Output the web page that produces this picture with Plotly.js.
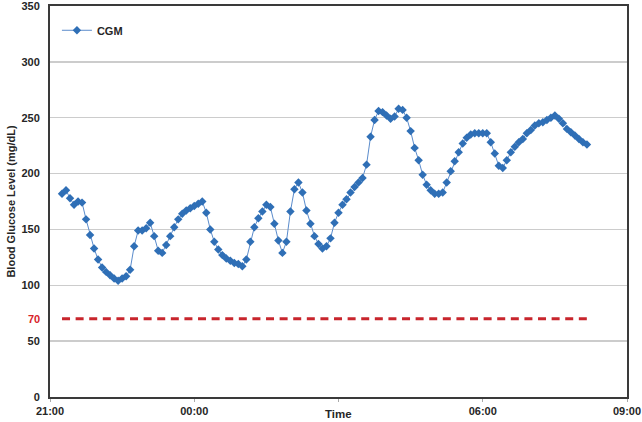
<!DOCTYPE html>
<html>
<head>
<meta charset="utf-8">
<script src="https://cdn.plot.ly/plotly-3.0.1.min.js"></script>
<style>
	html, body { margin: 0; padding: 0; background: #fff; }
	#chart { width: 642px; height: 422px; }
</style>
</head>
<body>
<div id="chart"></div>
<script>
// CGM readings, one every 5 minutes from 21:15
const cgm_start = '2000-01-01 21:15';
const cgm_step_ms = 5 * 60 * 1000;
const cgm_values = [
	182, 185, 178, 172, 175, 174, 159, 145, 133, 123,
	116, 112, 109, 106, 104, 106, 108, 114, 135, 149,
	149, 151, 156, 144, 131, 129, 136, 144, 152, 159,
	164, 167, 169, 171, 173, 175, 165, 150, 139, 132,
	127, 124, 122, 120, 119, 117, 123, 139, 152, 160,
	166, 172, 170, 155, 140, 129, 139, 166, 186, 192,
	183, 167, 155, 144, 137, 133, 135, 142, 156, 165,
	172, 177, 183, 188, 192, 196, 208, 233, 248, 256,
	255, 252, 249, 251, 258, 257, 250, 238, 223, 212,
	199, 190, 185, 182, 182, 183, 192, 202, 211, 219,
	227, 232, 235, 236, 236, 236, 236, 228, 218, 207,
	205, 212, 219, 224, 228, 231, 236, 239, 243, 245,
	246, 248, 250, 252, 249, 245, 240, 237, 234, 231,
	228, 226
];
const hypo_level = 70;

const x_range = ['2000-01-01 21:00', '2000-01-02 09:00'];
const x_tick_vals = ['2000-01-01 21:00', '2000-01-02 00:00', '2000-01-02 03:00', '2000-01-02 06:00', '2000-01-02 09:00'];
const x_tick_text = ['21:00', '00:00', '', '06:00', '09:00'];
const y_tick_vals = [0, 50, 100, 150, 200, 250, 300, 350];

const label_font = { family: 'Liberation Sans, Arial, sans-serif', size: 11, color: '#262626', weight: 'bold' };

const traces = [
	{
		type: 'scatter',
		mode: 'lines+markers',
		name: 'CGM',
		x0: cgm_start,
		dx: cgm_step_ms,
		y: cgm_values,
		line: { color: '#5b8ccc', width: 1 },
		marker: { symbol: 'diamond', size: 6.5, color: '#2f6fb6' }
	},
	{
		type: 'scatter',
		mode: 'lines',
		name: 'hypo',
		showlegend: false,
		x0: cgm_start,
		dx: cgm_step_ms * (cgm_values.length - 1),
		y: [hypo_level, hypo_level],
		line: { color: '#c8252c', width: 3, dash: '8px,5.6px' },
		hoverinfo: 'skip'
	}
];

const layout = {
	width: 642,
	height: 422,
	margin: { l: 50, r: 15, t: 6, b: 25 },
	paper_bgcolor: '#fff',
	plot_bgcolor: '#fff',
	font: label_font,
	showlegend: true,
	legend: {
		x: 0.012, y: 0.975, xanchor: 'left', yanchor: 'top',
		bgcolor: 'rgba(0,0,0,0)',
		font: { family: 'Liberation Sans, Arial, sans-serif', size: 11, color: '#262626', weight: 'bold' },
		itemwidth: 30
	},
	xaxis: {
		type: 'date',
		range: x_range,
		tickmode: 'array',
		tickvals: x_tick_vals,
		ticktext: x_tick_text,
		tickfont: label_font,
		ticks: 'outside',
		ticklen: 3,
		tickcolor: '#aaa',
		showgrid: false,
		zeroline: false,
		showline: true,
		linecolor: '#3a3a3a',
		linewidth: 2,
		mirror: true
	},
	yaxis: {
		range: [0, 350],
		tickmode: 'array',
		tickvals: y_tick_vals,
		tickfont: label_font,
		ticks: '',
		ticklabelstandoff: 6,
		ticklabeloverflow: 'allow',
		showgrid: true,
		gridcolor: '#cccccc',
		gridwidth: 1.5,
		zeroline: false,
		showline: true,
		linecolor: '#3a3a3a',
		linewidth: 2,
		mirror: true,
		title: { text: 'Blood Glucose Level (mg/dL)', font: label_font, standoff: 4 }
	},
	annotations: [
		{
			text: 'Time',
			xref: 'paper', yref: 'paper',
			x: 0.5, y: 0, xanchor: 'center', yanchor: 'middle',
			yshift: -17, showarrow: false,
			font: { family: 'Liberation Sans, Arial, sans-serif', size: 11.5, color: '#262626', weight: 'bold' }
		},
		{
			text: String(hypo_level),
			xref: 'paper', yref: 'y',
			x: 0, y: hypo_level, xanchor: 'right', yanchor: 'middle',
			xshift: -8, showarrow: false,
			font: { family: 'Liberation Sans, Arial, sans-serif', size: 11, color: '#d8232a', weight: 'bold' }
		}
	]
};

Plotly.newPlot('chart', traces, layout, { displayModeBar: false, staticPlot: true });
</script>
</body>
</html>
